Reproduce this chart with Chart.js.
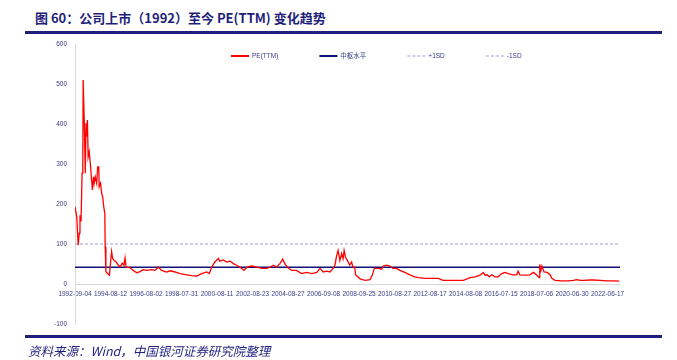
<!DOCTYPE html>
<html>
<head>
<meta charset="utf-8">
<script src="https://cdn.jsdelivr.net/npm/chart.js@4.4.1/dist/chart.umd.min.js"></script>
<style>
  body { margin: 0; width: 677px; height: 360px; background: #fff; position: relative; overflow: hidden; }
  #title { position: absolute; left: 35px; top: 8px; font: bold 13px "Noto Sans CJK SC"; color: #1f1f7a; white-space: nowrap; }
  .rule { position: absolute; left: 25px; width: 637px; height: 3px; background: #1f1f80; }
  #src { position: absolute; left: 28px; top: 341px; font: italic 12.5px "Noto Sans CJK SC"; color: #1f1f80; white-space: nowrap; }
  #wrap { position: absolute; left: 0; top: 0; width: 677px; height: 360px; }
</style>
</head>
<body>
<div id="title">图 60：公司上市（1992）至今 PE(TTM) 变化趋势</div>
<div class="rule" style="top:31px"></div>
<div id="wrap"><canvas id="myChart"></canvas></div>
<div class="rule" style="top:335px"></div>
<div id="src">资料来源：Wind，中国银河证券研究院整理</div>
<script>
// week index (trading weeks since 1992-09-04) and PE(TTM)
const weeks = [0, 5, 9, 12, 14, 17, 20, 22, 23, 26, 29, 31, 33, 35, 37, 40, 44, 46, 49, 52, 54, 57, 61, 64, 67, 68, 72, 75, 78, 81, 84, 85, 87, 91, 97, 99,
  103, 106, 111, 115, 122, 127, 133, 138, 141, 144, 155, 164, 174, 183, 192, 202, 216, 225, 235, 244, 258, 268, 282, 296, 315, 329, 343, 357, 371, 378,
  385, 394, 404, 408, 418, 427, 437, 446, 455, 465, 476, 484, 498, 512, 526, 540, 549, 559, 568, 577, 585, 592, 601, 610, 624, 638, 653, 667, 681, 690,
  699, 709, 718, 727, 732, 737, 741, 746, 751, 755, 758, 762, 767, 774, 779, 783, 788, 790, 803, 817, 831, 837, 843, 854, 864, 868, 878, 887, 896, 906,
  915, 929, 943, 957, 967, 986, 1004, 1023, 1037, 1056, 1075, 1094, 1113, 1127, 1141, 1150, 1155, 1161, 1167, 1174, 1183, 1192, 1202, 1211, 1220, 1234,
  1244, 1248, 1253, 1267, 1281, 1291, 1300, 1307, 1309, 1312, 1315, 1321, 1330, 1339, 1343, 1352, 1371, 1390, 1404, 1413, 1423, 1432, 1451, 1460, 1479,
  1498, 1516, 1533];
const peValues = [193, 168, 97, 127, 172, 156, 277, 302, 510, 410, 277, 402, 368, 410, 318, 331, 293, 268, 235, 268, 252, 268, 252, 293, 293, 243, 252, 227, 218, 193, 177, 93, 31, 27, 22, 43,
  81, 64, 58, 56, 47, 43, 52, 47, 65, 42, 41, 34, 28, 31, 36, 34, 36, 34, 42, 34, 30, 33, 30, 26, 23, 21, 20, 26, 30, 26,
  42, 55, 64, 57, 60, 55, 57, 51, 47, 42, 34, 42, 45, 42, 39, 39, 42, 47, 42, 51, 62, 49, 40, 34, 34, 26, 29, 26, 29, 39,
  30, 32, 30, 39, 47, 71, 84, 59, 76, 63, 84, 67, 59, 47, 55, 42, 42, 23, 13, 9, 11, 21, 39, 39, 37, 45, 47, 45, 39, 39,
  34, 29, 23, 18, 16, 14, 14, 14, 9, 9, 9, 9, 16, 18, 22, 29, 22, 23, 18, 23, 18, 18, 26, 29, 26, 23,
  23, 32, 23, 22, 23, 29, 23, 16, 49, 34, 45, 30, 29, 22, 14, 9, 8, 8, 9, 11, 9, 9, 10, 10, 9,
  8, 8, 7];
const lastWeek = 1535;
const medianPE = 42;
const plusSD = 100;
const tickDates = ['1992-09-04', '1994-08-12', '1996-08-02', '1998-07-31', '2000-08-11', '2002-08-23', '2004-08-27', '2006-09-08',
  '2008-09-25', '2010-08-27', '2012-08-17', '2014-08-08', '2016-07-15', '2018-07-06', '2020-06-30', '2022-06-17'];

const navy = '#3a3a8c';

const legendPlugin = {
  id: 'innerLegend',
  afterDraw(chart) {
    const ctx = chart.ctx;
    const area = chart.chartArea;
    let x = area.left + 156;
    const y = area.top + 12;
    ctx.save();
    ctx.font = '6.5px "Liberation Sans", "Noto Sans CJK SC"';
    ctx.textBaseline = 'middle';
    chart.data.datasets.forEach(ds => {
      ctx.strokeStyle = ds.borderColor;
      ctx.lineWidth = ds.legendWidth;
      ctx.setLineDash(ds.borderDash || []);
      ctx.beginPath();
      ctx.moveTo(x, y);
      ctx.lineTo(x + 18, y);
      ctx.stroke();
      ctx.setLineDash([]);
      ctx.fillStyle = navy;
      ctx.fillText(ds.label, x + 21, y);
      x += 21 + ctx.measureText(ds.label).width + 41;
    });
    ctx.restore();
  }
};

const ctx = document.getElementById('myChart');

new Chart(ctx, {
  type: 'line',
  data: {
    datasets: [
      {
        label: 'PE(TTM)',
        data: weeks.map((w, i) => ({ x: w, y: peValues[i] })),
        borderColor: '#ff0000',
        borderWidth: 1.3,
        legendWidth: 2,
        pointRadius: 0,
        tension: 0,
      },
      {
        label: '中枢水平',
        data: [{ x: 0, y: medianPE }, { x: lastWeek, y: medianPE }],
        borderColor: '#10107a',
        borderWidth: 1.5,
        legendWidth: 2,
        pointRadius: 0,
      },
      {
        label: '+1SD',
        data: [{ x: 0, y: plusSD }, { x: lastWeek, y: plusSD }],
        borderColor: '#9d9dd4',
        borderWidth: 1,
        borderDash: [3, 2],
        legendWidth: 1,
        pointRadius: 0,
      },
      {
        label: '-1SD',
        data: [],
        borderColor: '#9d9dd4',
        borderWidth: 1,
        borderDash: [3, 2],
        legendWidth: 1,
        pointRadius: 0,
      },
    ]
  },
  options: {
    responsive: true,
    maintainAspectRatio: false,
    animation: false,
    layout: { padding: { top: 44, right: 57, bottom: 36, left: 0 } },
    plugins: {
      legend: { display: false },
      tooltip: { enabled: false },
    },
    scales: {
      x: {
        type: 'linear',
        position: { y: 0 },
        min: 0,
        max: lastWeek,
        grid: { display: false, drawTicks: false },
        border: { color: '#d9d9d9' },
        afterBuildTicks: s => { s.ticks = tickDates.map((d, i) => ({ value: i * 100 })); },
        ticks: {
          autoSkip: false,
          maxRotation: 0,
          padding: 6,
          color: navy,
          font: { size: 6.5, family: 'Liberation Sans' },
          callback: v => tickDates[v / 100] ?? '',
        },
        afterFit: s => { s.height = 0; },
      },
      y: {
        min: -100,
        max: 600,
        grid: { display: false, drawTicks: false },
        border: { color: '#d9d9d9' },
        ticks: {
          stepSize: 100,
          padding: 8,
          color: navy,
          font: { size: 6.5, family: 'Liberation Sans' },
        },
        afterFit: s => { s.width = 75; },
      },
    }
  },
  plugins: [legendPlugin]
});
</script>
</body>
</html>
